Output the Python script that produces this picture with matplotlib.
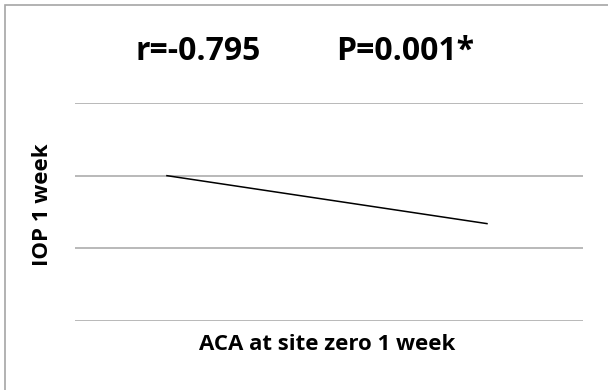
import matplotlib
matplotlib.use("Agg")
import matplotlib.pyplot as plt
from matplotlib.patches import Rectangle

# Fitted regression line endpoints (ACA, IOP)
aca_values = [181, 811]
iop_values = [20.0, 16.7]
y_gridlines = [10, 15, 20, 25]
r_text = "r=-0.795"
p_text = "P=0.001*"
x_label = "ACA at site zero 1 week"
y_label = "IOP 1 week"

plt.rcParams['font.family'] = ['Open Sans', 'DejaVu Sans']

fig = plt.figure(figsize=(6.08, 3.9), dpi=100)
fig.patch.set_facecolor("white")

# outer chart border
fig.patches.append(Rectangle((4.5 / 608, -0.1), 1.2, 1 - 5.5 / 390 + 0.1,
                             transform=fig.transFigure, fill=False,
                             edgecolor="#a6a6a6", linewidth=1.2))

ax = fig.add_axes([75 / 608, 1 - 321 / 390, (583 - 75) / 608, (321 - 103) / 390])
ax.set_xlim(0, 1000)
ax.set_ylim(y_gridlines[0], y_gridlines[-1])
for y in y_gridlines:
    ax.axhline(y, color="#a6a6a6", linewidth=1.1, zorder=1)
ax.plot(aca_values, iop_values, color="black", linewidth=1.1, zorder=2)
for s in ax.spines.values():
    s.set_visible(False)
ax.set_xticks([])
ax.set_yticks([])
ax.patch.set_alpha(0)

fig.text(198 / 608, 1 - 51 / 390, r_text, ha="center", va="center",
         fontsize=23, fontweight="bold")
fig.text(405 / 608, 1 - 51 / 390, p_text, ha="center", va="center",
         fontsize=23, fontweight="bold")
fig.text(327 / 608, 1 - 344 / 390, x_label, ha="center", va="center",
         fontsize=16, fontweight="bold")
fig.text(42 / 608, 1 - 205 / 390, y_label, ha="center", va="center",
         fontsize=16, fontweight="bold", rotation=90)

fig.savefig("out.png", dpi=100)
